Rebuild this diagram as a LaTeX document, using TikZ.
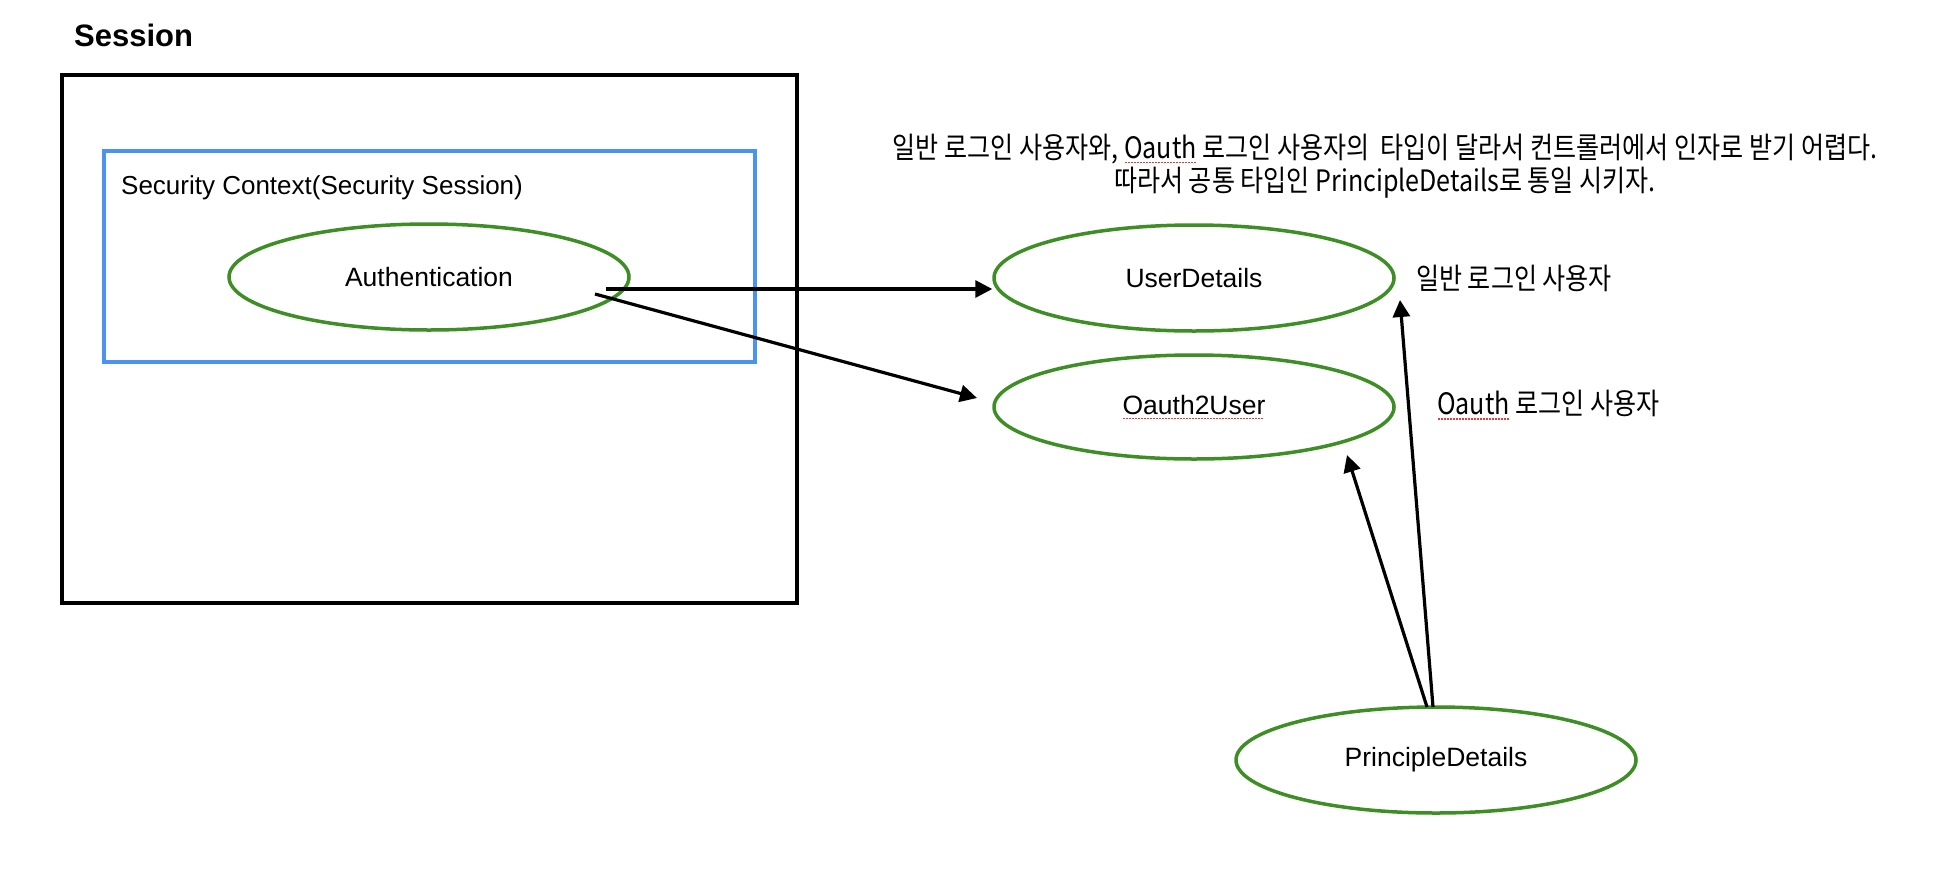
\documentclass[tikz,border=0pt]{standalone}
\usepackage{fontspec}
\setmainfont{Liberation Sans}
\newfontfamily\kr[FakeStretch=0.85]{Noto Sans CJK KR}
\usetikzlibrary{shapes.geometric,arrows.meta,calc}
\definecolor{grn}{RGB}{62,142,38}
\definecolor{blu}{RGB}{74,148,240}
\definecolor{spellred}{RGB}{226,60,60}
\newcommand\spellmark[1]{\setbox0\hbox{#1}\rlap{\raisebox{-5pt}{\color{spellred}\leaders\hbox to 3pt{\hss\rule{1.6pt}{1.6pt}\hss}\hskip\wd0\relax}}\box0\relax}
\begin{document}
\begin{tikzpicture}[x=1pt,y=-1pt,
  ell/.style={ellipse, draw=grn, line width=3.5pt, minimum width=400pt, minimum height=106pt, inner sep=0pt, font=\fontsize{26.5}{30}\selectfont},
  conn/.style={draw=black, line width=3.2pt, -{Triangle[length=17pt,width=17pt]}},
  krtext/.style={inner sep=0pt, font=\kr\fontsize{29.5}{33}\selectfont},
  plain/.style={inner sep=0pt, font=\fontsize{26}{30}\selectfont}]
\useasboundingbox[fill=white] (0,0) rectangle (1938,868);
% title
\node[inner sep=0pt, anchor=west, font=\bfseries\fontsize{31}{36}\selectfont] (title) at (74,35) {Session};
% session box
\draw[line width=3.4pt] (62,75) rectangle (797,603);
% security context box
\draw[blu, line width=3.4pt] (104,151) rectangle (755,362);
\node[plain, anchor=west] (sc) at (121,188) {Security Context(Security Session)};
% ellipses
\node[ell] (auth) at (429,277) {Authentication};
\node[ell] (ud) at (1194,278) {UserDetails};
\node[ell, minimum height=104pt] (ou) at (1194,407) {\spellmark{Oauth2User}};
\node[ell] (pd) at (1436,760) {PrincipleDetails};
% texts
\node[krtext, align=center] (note) at (1385,166) {일반 로그인 사용자와, \spellmark{Oauth} 로그인 사용자의\ \ 타입이 달라서 컨트롤러에서 인자로 받기 어렵다.\\따라서 공통 타입인 PrincipleDetails로 통일 시키자.};
\node[krtext, anchor=west] (l1) at (1416,278) {일반 로그인 사용자};
\node[krtext, anchor=west] (l2) at (1437,405) {\spellmark{Oauth} 로그인 사용자};
% connectors
\coordinate (s1) at (606,289);
\coordinate (s2) at (595,294);
\coordinate (e2) at (977,398);
\coordinate (s3) at (1427,707);
\coordinate (e3) at (1347,455);
\coordinate (s4) at (1433,707);
\coordinate (e4) at (1400,300);
\draw[conn] (s1) -- (s1 -| ud.west) ;
\draw[conn] (s2) -- (e2);
\draw[conn] (s3) -- (e3);
\draw[conn] (s4) -- (e4);
\end{tikzpicture}
\end{document}
